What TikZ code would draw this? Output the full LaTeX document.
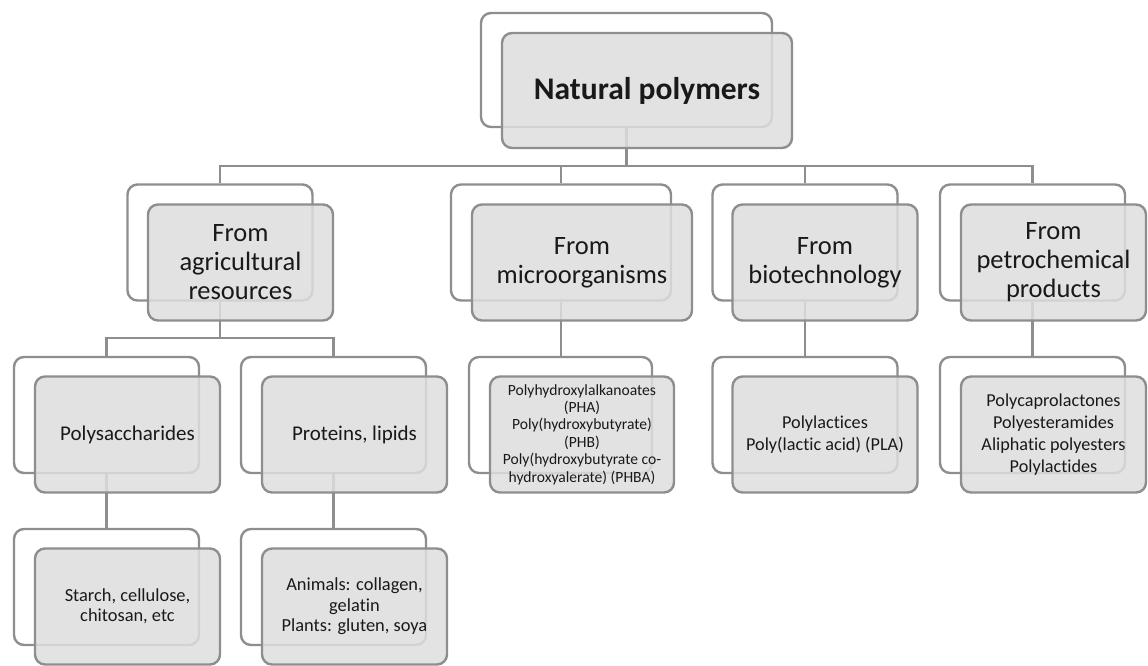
\documentclass[tikz,border=0pt]{standalone}
\usepackage{fontspec}
\setmainfont{Carlito}[Ligatures={NoCommon,NoContextual}]
\definecolor{linegray}{HTML}{8E8E8E}
\definecolor{boxgray}{HTML}{DEDEDE}
\tikzset{
  backbox/.style={draw=linegray, line width=2.4pt, rounded corners=10pt, fill=white, inner sep=0pt,
                  minimum width=185pt, minimum height=116pt},
  frontbox/.style={draw=linegray, line width=2.4pt, rounded corners=10pt, fill=boxgray, fill opacity=0.85,
                   text opacity=1, text=black!90, inner sep=0pt, align=center,
                   minimum width=185pt, minimum height=116pt},
  conn/.style={draw=linegray, line width=2.4pt},
  ftop/.style={font=\fontsize{31.5}{36}\selectfont\bfseries},
  fsec/.style={font=\fontsize{26.5}{29}\selectfont},
  fthird/.style={font=\fontsize{21}{24}\selectfont},
  fsmall/.style={font=\fontsize{15.6}{17.4}\selectfont},
  fmid/.style={font=\fontsize{18.2}{22}\selectfont},
  fleaf/.style={font=\fontsize{18.4}{20.5}\selectfont}
}
\begin{document}
\begin{tikzpicture}[x=1pt,y=-1pt]
\useasboundingbox (0,0) rectangle (1148,666);
% ---- back boxes
\node[backbox, minimum width=291pt, minimum height=114pt] (topb) at (626.5,70) {};
\node[backbox] (agrib) at (220,242.5) {};
\node[backbox, minimum width=220pt] (microb) at (561,242.5) {};
\node[backbox] (biob) at (805,242.5) {};
\node[backbox] (petrob) at (1032.5,242.5) {};
\node[backbox] (polyb) at (106.5,415) {};
\node[backbox] (protb) at (333.5,415) {};
\node[backbox, minimum width=183pt] (mchildb) at (560.5,415) {};
\node[backbox] (bchildb) at (805,415) {};
\node[backbox] (pchildb) at (1032.5,415) {};
\node[backbox] (starchb) at (106.5,587) {};
\node[backbox] (animb) at (333.5,587) {};
% ---- connectors
\coordinate (bus1) at (626.5,166);
\coordinate (bus2) at (220,338);
\draw[conn] (topb.south) -- (bus1);
\draw[conn] (agrib.north) |- (bus1) -| (petrob.north);
\draw[conn] (microb.north) -- (microb.north |- bus1);
\draw[conn] (biob.north) -- (biob.north |- bus1);
\draw[conn] (agrib.south) -- (bus2);
\draw[conn] (polyb.north) |- (bus2) -| (protb.north);
\draw[conn] (microb.south) -- (microb.south |- mchildb.north);
\draw[conn] (biob.south) -- (bchildb.north);
\draw[conn] (petrob.south) -- (pchildb.north);
\draw[conn] (polyb.south) -- (starchb.north);
\draw[conn] (protb.south) -- (animb.north);
% ---- front boxes
\node[frontbox, ftop, minimum width=290pt, minimum height=115pt] (topf) at (647,90.5) {Natural polymers};
\node[frontbox, fsec] (agrif) at (240.5,262.5) {From\\agricultural\\resources};
\node[frontbox, fsec, minimum width=220pt] (microf) at (582,262.5) {From\\microorganisms};
\node[frontbox, fsec] (biof) at (825,262.5) {From\\biotechnology};
\node[frontbox, fsec] (petrof) at (1053.5,262.5) {From\\petrochemical\\products};
\node[frontbox, fthird] (polyf) at (127.5,434.5) {Polysaccharides};
\node[frontbox, fthird] (protf) at (354.5,434.5) {Proteins, lipids};
\node[frontbox, fsmall, minimum width=184pt] (mchildf) at (582,434.5) {Polyhydroxylalkanoates\\(PHA)\\Poly(hydroxybutyrate)\\(PHB)\\Poly(hydroxybutyrate co-\\hydroxyalerate) (PHBA)};
\node[frontbox, fmid] (bchildf) at (825,434.5) {Polylactices\\Poly(lactic acid) (PLA)};
\node[frontbox, fmid] (pchildf) at (1053.5,434.5) {Polycaprolactones\\Polyesteramides\\Aliphatic polyesters\\Polylactides};
\node[frontbox, fleaf] (starchf) at (127.5,606.5) {Starch, cellulose,\\chitosan, etc};
\node[frontbox, fleaf] (animf) at (354.5,606.5) {Animals: collagen,\\gelatin\\Plants: gluten, soya};
\end{tikzpicture}
\end{document}
